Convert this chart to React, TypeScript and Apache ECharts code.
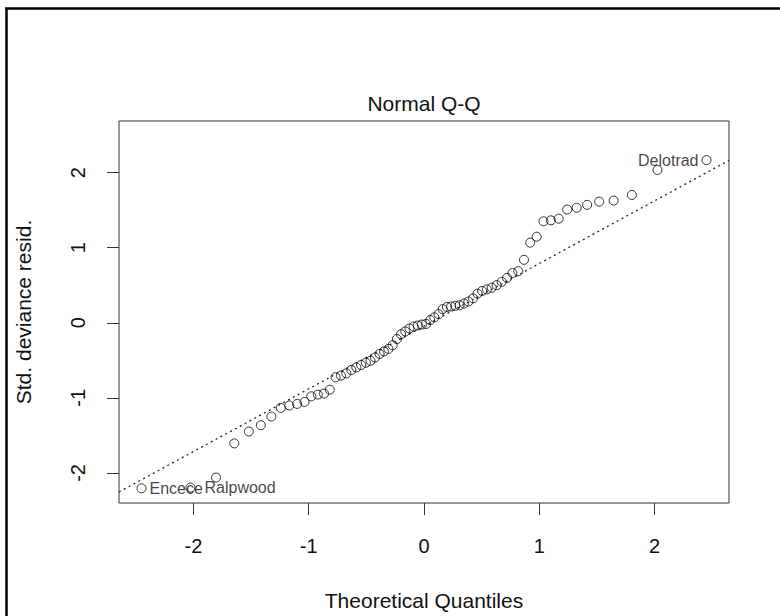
import React, { useEffect, useRef } from "react";
import * as echarts from "echarts";

// Theoretical normal quantiles (x) and sorted standardized deviance residuals (y)
const theoreticalQuantiles = [
  -2.45, -2.025, -1.803, -1.645, -1.519, -1.415, -1.324, -1.242, -1.168, -1.1,
  -1.036, -0.977, -0.921, -0.867, -0.817, -0.767, -0.72, -0.674, -0.63, -0.587,
  -0.545, -0.504, -0.464, -0.425, -0.385, -0.347, -0.309, -0.272, -0.235, -0.199,
  -0.162, -0.126, -0.09, -0.054, -0.018, 0.018, 0.054, 0.09, 0.126, 0.162,
  0.199, 0.235, 0.272, 0.309, 0.347, 0.385, 0.425, 0.464, 0.504, 0.545,
  0.587, 0.63, 0.674, 0.72, 0.767, 0.817, 0.867, 0.921, 0.977, 1.036,
  1.1, 1.168, 1.242, 1.324, 1.415, 1.519, 1.645, 1.803, 2.025, 2.45,
];

const devianceResiduals = [
  -2.205, -2.195, -2.061, -1.606, -1.448, -1.364, -1.248, -1.133, -1.101, -1.08,
  -1.054, -0.979, -0.956, -0.943, -0.891, -0.725, -0.703, -0.673, -0.628, -0.594,
  -0.562, -0.532, -0.506, -0.462, -0.414, -0.381, -0.348, -0.299, -0.216, -0.151,
  -0.115, -0.075, -0.05, -0.036, -0.023, -0.015, 0.037, 0.073, 0.116, 0.182,
  0.211, 0.217, 0.226, 0.234, 0.257, 0.283, 0.326, 0.388, 0.424, 0.445,
  0.467, 0.502, 0.546, 0.598, 0.664, 0.687, 0.839, 1.068, 1.147, 1.352,
  1.365, 1.387, 1.509, 1.532, 1.571, 1.614, 1.628, 1.703, 2.035, 2.167,
];

// The three most extreme residuals are labelled with their case names
const labelledIndex = [0, 1, 69];
const labelledNames = ["Encece", "Ralpwood", "Delotrad"];
const labelGaps = [3, 9, 3];

const tickValues = [-2, -1, 0, 1, 2];
const xLimits = [-2.645, 2.645];
const yLimits = [-2.4, 2.688];

// Reference line through the quartiles
const refIntercept = -0.045;
const refSlope = 0.835;

const FONT = "'Liberation Sans', Arial, Helvetica, sans-serif";
const INK = "#111";

export default function App() {
  const ref = useRef<HTMLDivElement>(null);

  useEffect(() => {
    if (!ref.current) return;
    const chart = echarts.init(ref.current, undefined, { renderer: "svg" });

    const points = theoreticalQuantiles.map((q, i) => {
      const k = labelledIndex.indexOf(i);
      const item: any = { value: [q, devianceResiduals[i]] };
      if (k >= 0) {
        const onRight = q > 0;
        item.label = {
          show: true,
          formatter: labelledNames[k],
          position: onRight ? "left" : "right",
          distance: labelGaps[k],
          fontSize: 16,
          fontFamily: FONT,
          color: INK,
        };
      }
      return item;
    });

    const refLine = xLimits.map((x) => [x, refIntercept + refSlope * x]);

    const axisCommon = {
      type: "value" as const,
      splitLine: { show: false },
      axisLine: { show: false, onZero: false },
      axisTick: {
        show: true,
        length: 12,
        customValues: tickValues,
        lineStyle: { color: "#333", width: 1 },
      },
    };

    chart.setOption({
      animation: false,
      backgroundColor: "#ffffff",
      textStyle: { fontFamily: FONT },
      grid: {
        left: 119,
        top: 121,
        width: 610,
        height: 387,
        show: true,
        borderColor: "#333",
        borderWidth: 1,
        backgroundColor: "transparent",
      },
      xAxis: {
        ...axisCommon,
        min: xLimits[0],
        max: xLimits[1],
        name: "Theoretical Quantiles",
        nameLocation: "middle",
        nameGap: 87,
        nameTextStyle: { fontSize: 21, color: INK, fontFamily: FONT },
        axisLabel: {
          customValues: tickValues,
          fontSize: 20,
          color: INK,
          fontFamily: FONT,
          margin: 33,
        },
      },
      yAxis: {
        ...axisCommon,
        min: yLimits[0],
        max: yLimits[1],
        name: "Std. deviance resid.",
        nameLocation: "middle",
        nameRotate: 90,
        nameGap: 85,
        nameTextStyle: { fontSize: 21, color: INK, fontFamily: FONT },
        axisLabel: {
          customValues: tickValues,
          rotate: 90,
          fontSize: 20,
          color: INK,
          fontFamily: FONT,
          margin: 31,
        },
      },
      graphic: [
        {
          type: "text",
          x: 424,
          y: 103,
          style: {
            text: "Normal Q-Q",
            fontSize: 21,
            fontFamily: FONT,
            fill: INK,
            align: "center",
            verticalAlign: "middle",
          },
        },
        {
          type: "line",
          shape: { x1: 6.5, y1: 8, x2: 6.5, y2: 616 },
          style: { stroke: "#000", lineWidth: 2.5 },
        },
        {
          type: "line",
          shape: { x1: 5, y1: 8.5, x2: 780, y2: 8.5 },
          style: { stroke: "#000", lineWidth: 2.5 },
        },
      ],
      series: [
        {
          type: "line",
          data: refLine,
          showSymbol: false,
          symbol: "none",
          silent: true,
          clip: true,
          lineStyle: { color: "#222", width: 1.3, type: [2, 3.5] },
        },
        {
          type: "scatter",
          data: points,
          symbol: "circle",
          symbolSize: 9,
          silent: true,
          itemStyle: {
            color: "rgba(0,0,0,0)",
            borderColor: "#000",
            borderWidth: 1,
          },
        },
      ],
    });

    return () => chart.dispose();
  }, []);

  return (
    <div
      ref={ref}
      style={{ position: "absolute", left: 0, top: 0, width: 780, height: 616, background: "#fff" }}
    />
  );
}
